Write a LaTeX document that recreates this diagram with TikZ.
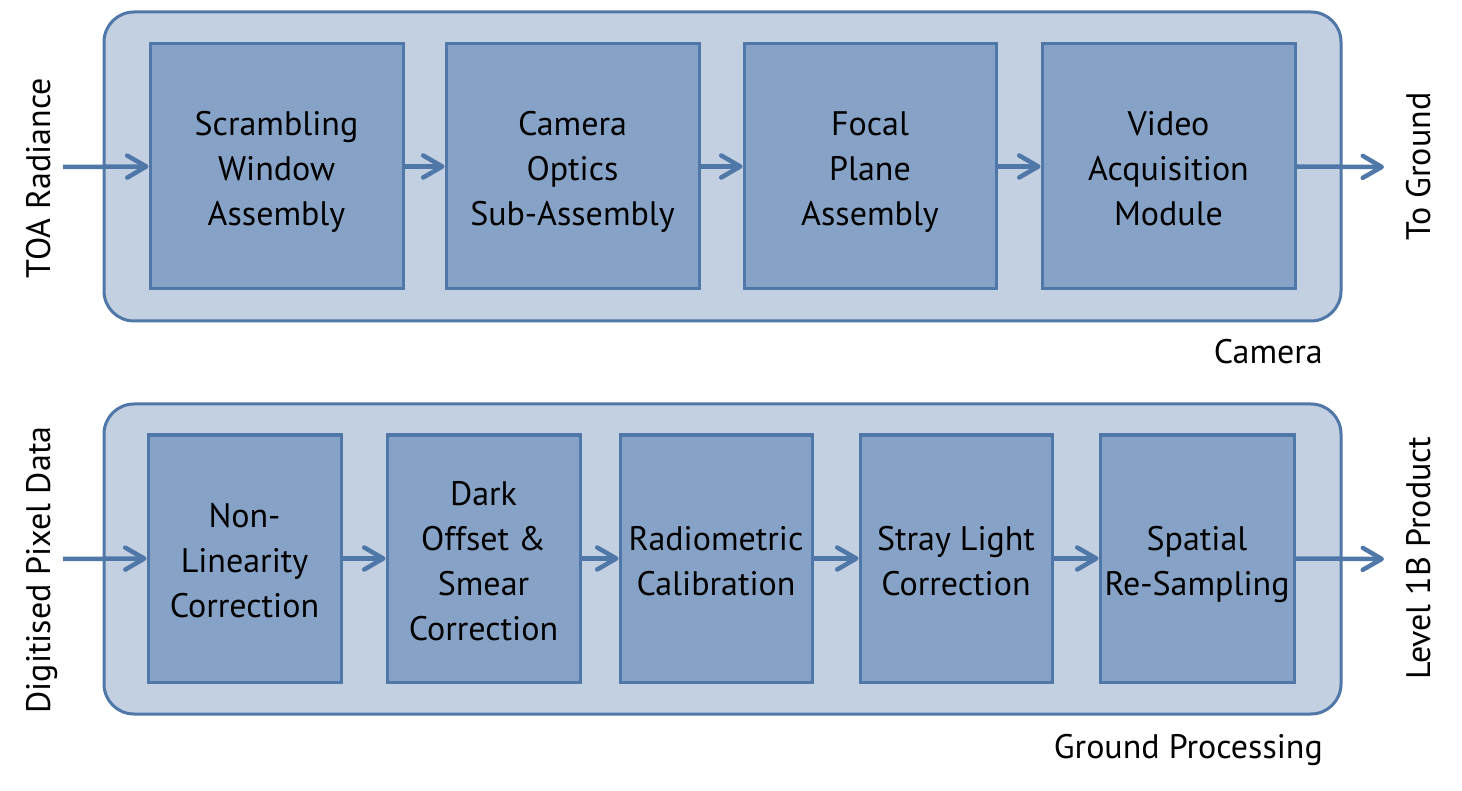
\documentclass[tikz,border=0pt]{standalone}
\usepackage{fontspec}
\setmainfont{PT Sans}
\usetikzlibrary{arrows.meta}
\definecolor{outerfill}{HTML}{C3D0E1}
\definecolor{innerfill}{HTML}{86A3C7}
\definecolor{edgeblue}{HTML}{4F77A8}
\newcommand\blocktext[1]{\raisebox{-5pt}[\height][\depth]{\begin{tabular}{@{}c@{}}#1\end{tabular}}}
\tikzset{
  outerbox/.style={draw=edgeblue, fill=outerfill, line width=3pt, rounded corners=30pt, inner sep=0pt},
  blockbox/.style={draw=edgeblue, fill=innerfill, line width=3pt, inner sep=0pt,
    font=\fontsize{34}{45}\selectfont},
  flow/.style={draw=edgeblue, line width=4.5pt, -{Straight Barb[length=19pt,width=22pt,line cap=round,line join=round]}},
  sidelabel/.style={rotate=90, anchor=base, font=\fontsize{34}{40}\selectfont, inner sep=0pt},
  grouplabel/.style={anchor=base east, font=\fontsize{34}{40}\selectfont, inner sep=0pt}
}
\begin{document}
\begin{tikzpicture}[x=1pt,y=-1pt]
\useasboundingbox (0,0) rectangle (1462,791);
% ---- Camera ----
\node[outerbox, minimum width=1237pt, minimum height=309pt] (cam) at (722.5,166.5) {};
\node[blockbox, minimum width=253pt, minimum height=245pt] (swa) at (276.5,166.5) {\blocktext{Scrambling\\Window\\Assembly}};
\node[blockbox, minimum width=253pt, minimum height=245pt] (cos) at (572.5,166.5) {\blocktext{Camera\\Optics\\Sub-Assembly}};
\node[blockbox, minimum width=252pt, minimum height=245pt] (fpa) at (870,166.5) {\blocktext{Focal\\Plane\\Assembly}};
\node[blockbox, minimum width=253pt, minimum height=245pt] (vam) at (1168.5,166.5) {\blocktext{Video\\Acquisition\\Module}};
\coordinate (toaIn) at (63,167);
\coordinate (camOut) at (1384,167);
\draw[flow] (toaIn) -- (swa.west);
\draw[flow] (swa.east) -- (cos.west);
\draw[flow] (cos.east) -- (fpa.west);
\draw[flow] (fpa.east) -- (vam.west);
\draw[flow] (vam.east) -- (camOut);
\node[sidelabel] (toa) at (50,178) {TOA Radiance};
\node[sidelabel] (tog) at (1430,166.5) {To Ground};
\node[grouplabel] (camlbl) at (1323,364) {Camera};
% ---- Ground processing ----
\node[outerbox, minimum width=1237pt, minimum height=310pt] (gp) at (722.5,559) {};
\node[blockbox, minimum width=193pt, minimum height=247pt] (nlc) at (244.5,558.5) {\blocktext{Non-\\Linearity\\Correction}};
\node[blockbox, minimum width=193pt, minimum height=247pt] (dos) at (483.5,558.5) {\blocktext{Dark\\Offset \&\\Smear\\Correction}};
\node[blockbox, minimum width=192pt, minimum height=247pt] (rad) at (716,558.5) {\blocktext{Radiometric\\Calibration}};
\node[blockbox, minimum width=192pt, minimum height=247pt] (slc) at (956,558.5) {\blocktext{Stray Light\\Correction}};
\node[blockbox, minimum width=194pt, minimum height=247pt] (srs) at (1197,558.5) {\blocktext{Spatial\\Re-Sampling}};
\coordinate (pixIn) at (63,559);
\coordinate (gpOut) at (1384,559);
\draw[flow] (pixIn) -- (nlc.west);
\draw[flow] (nlc.east) -- (dos.west);
\draw[flow] (dos.east) -- (rad.west);
\draw[flow] (rad.east) -- (slc.west);
\draw[flow] (slc.east) -- (srs.west);
\draw[flow] (srs.east) -- (gpOut);
\node[sidelabel] (dpd) at (50,570) {Digitised Pixel Data};
\node[sidelabel] (l1b) at (1430,558) {Level 1B Product};
\node[grouplabel] (gplbl) at (1323,758) {Ground Processing};
\end{tikzpicture}
\end{document}
